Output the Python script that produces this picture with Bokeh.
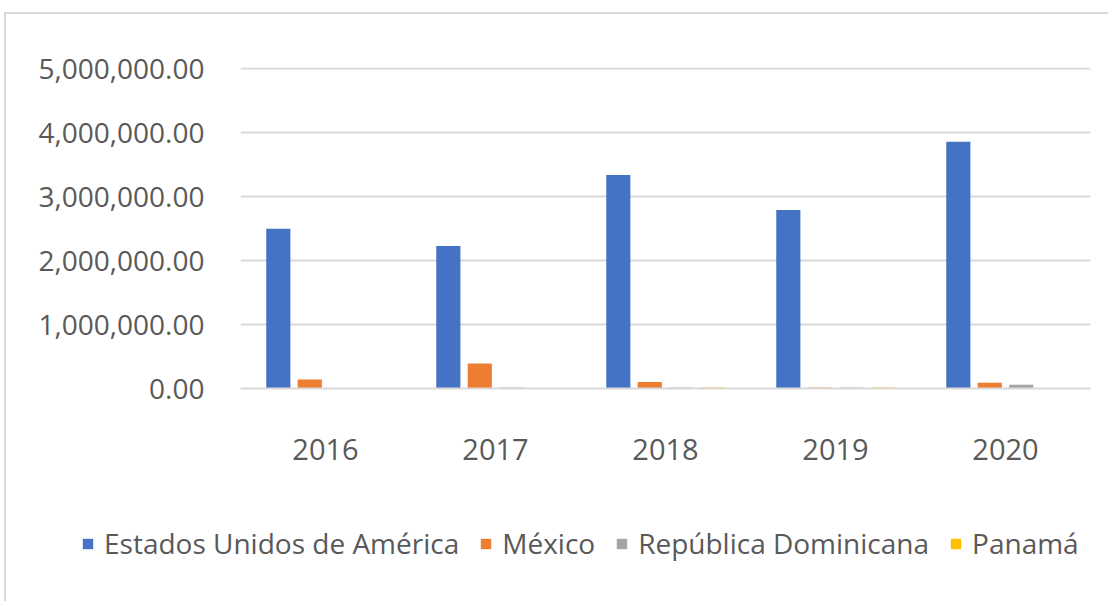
from bokeh.plotting import figure
from bokeh.models import ColumnDataSource, Range1d, FactorRange, Legend, LegendItem, NumeralTickFormatter, FixedTicker
from bokeh.transform import dodge
from bokeh.embed import file_html
from bokeh.resources import INLINE

years = ["2016", "2017", "2018", "2019", "2020"]
series_names = ["Estados Unidos de América", "México", "República Dominicana", "Panamá"]
usa = [2500000, 2230000, 3340000, 2790000, 3860000]
mexico = [140000, 390000, 100000, 15000, 90000]
rep_dom = [0, 15000, 15000, 15000, 60000]
panama = [0, 0, 15000, 15000, 0]
y_ticks = [0, 1000000, 2000000, 3000000, 4000000, 5000000]

colors = ["#4472C4", "#ED7D31", "#A5A5A5", "#FFC000"]
FONT = "Open Sans"
TXT = "#595959"

src = ColumnDataSource(dict(years=years, usa=usa, mexico=mexico, rep_dom=rep_dom, panama=panama))
cols = ["usa", "mexico", "rep_dom", "panama"]

p = figure(x_range=FactorRange(*years, range_padding=0), y_range=Range1d(0, 5020000),
           width=1104, height=474, output_backend="svg", toolbar_location=None,
           min_border_left=234, min_border_right=20, min_border_top=53, min_border_bottom=100)
p.outline_line_color = None
p.styles = {"border-top": "2px solid #d9d9d9", "border-left": "2px solid #d9d9d9",
            "margin-top": "12px", "margin-left": "4px"}

step = 0.185
width = 0.142
offsets = [-1.5 * step, -0.5 * step, 0.5 * step, 1.5 * step]
for c, off, col in zip(cols, offsets, colors):
    p.vbar(x=dodge("years", off, range=p.x_range), top=c, width=width, bottom=0,
           source=src, fill_color=col, line_color=None)

p.yaxis.ticker = FixedTicker(ticks=y_ticks)
p.yaxis.formatter = NumeralTickFormatter(format="0,0.00")
p.yaxis.axis_line_color = None
p.yaxis.major_tick_line_color = None
p.yaxis.minor_tick_line_color = None
p.yaxis.major_label_standoff = 30
p.yaxis.major_label_text_font = FONT
p.yaxis.major_label_text_font_size = "28px"
p.yaxis.major_label_text_color = TXT

p.xaxis.axis_line_color = "#d9d9d9"
p.xaxis.axis_line_width = 2
p.xaxis.major_tick_line_color = None
p.xaxis.minor_tick_line_color = None
p.xaxis.major_label_standoff = 44
p.xaxis.major_label_text_font = FONT
p.xaxis.major_label_text_font_size = "29px"
p.xaxis.major_label_text_color = TXT

p.xgrid.grid_line_color = None
p.ygrid.grid_line_color = "#d9d9d9"
p.ygrid.grid_line_width = 2
p.ygrid.ticker = FixedTicker(ticks=y_ticks)

# legend strip below the chart (separate root so its frame spans the full width)
p2 = figure(x_range=FactorRange(*years), y_range=Range1d(0, 1),
            width=1104, height=115, output_backend="svg", toolbar_location=None,
            min_border_left=0, min_border_right=0, min_border_top=0, min_border_bottom=0)
p2.axis.visible = False
p2.grid.visible = False
p2.outline_line_color = None
p2.styles = {"border-left": "2px solid #d9d9d9", "margin-left": "4px"}
legend_renderers = []
for c, col in zip(cols, colors):
    r = p2.vbar(x="years", top=c, width=0.1, source=src, fill_color=col, line_color=None, visible=False)
    legend_renderers.append(r)

items = [LegendItem(label=n, renderers=[r]) for n, r in zip(series_names, legend_renderers)]
legend = Legend(items=items, orientation="horizontal", location=(75, 39),
                glyph_width=13, glyph_height=13, label_standoff=10, spacing=20, label_height=28,
                label_text_font=FONT, label_text_font_size="28px", label_text_color=TXT,
                border_line_color=None, background_fill_alpha=0, padding=0, margin=0)
p2.add_layout(legend, "center")

open("out.html", "w").write(file_html([p, p2], INLINE))
